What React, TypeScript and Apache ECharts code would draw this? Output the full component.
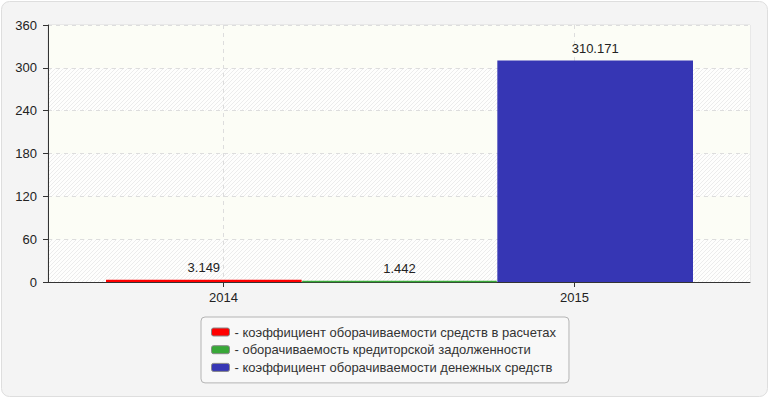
import React, { useEffect, useRef } from "react";
import * as echarts from "echarts";

const years = ["2014", "2015"];
const barSlots = ["slot1", "slot2", "slot3"];
const seriesNames = [
  "коэффициент оборачиваемости средств в расчетах",
  "оборачиваемость кредиторской задолженности",
  "коэффициент оборачиваемости денежных средств",
];
const receivablesTurnover = [3.149, null, null];
const payablesTurnover = [null, 1.442, null];
const cashTurnover = [null, null, 310.171];
const seriesColors = ["#ff0000", "#38a838", "#3636b4"];
const yMin = 0;
const yMax = 360;
const yStep = 60;

function makeHatch(): string {
  const c = document.createElement("canvas");
  c.width = 4;
  c.height = 4;
  const ctx = c.getContext("2d");
  if (ctx) {
    ctx.fillStyle = "#fefefd";
    ctx.fillRect(0, 0, 4, 4);
    ctx.strokeStyle = "#ececec";
    ctx.lineWidth = 1;
    for (let k = -4; k <= 8; k += 4) {
      ctx.beginPath();
      ctx.moveTo(k, 4);
      ctx.lineTo(k + 4, 0);
      ctx.stroke();
    }
  }
  return c.toDataURL();
}

export default function App() {
  const ref = useRef<HTMLDivElement>(null);
  useEffect(() => {
    if (!ref.current) return;
    const chart = echarts.init(ref.current, null, { renderer: "svg" });
    const font = "'Liberation Sans', Arial, sans-serif";
    const hatch = { image: makeHatch(), repeat: "repeat", imageWidth: 4, imageHeight: 4 };
    const plain = "#fcfdf6";
    const values = [receivablesTurnover, payablesTurnover, cashTurnover];
    chart.setOption({
      animation: false,
      backgroundColor: "transparent",
      textStyle: { fontFamily: font },
      graphic: [
        {
          type: "rect",
          z: -10,
          silent: true,
          shape: { x: 1.5, y: 1.5, width: 766, height: 395, r: 8 },
          style: { fill: "#f4f4f4", stroke: "#dedede", lineWidth: 1 },
        },
      ],
      grid: [
        {
          left: 48,
          right: 20,
          top: 25,
          bottom: 118,
          show: true,
          backgroundColor: plain,
          borderColor: "#dcdcdc",
          borderWidth: 1,
        },
        { left: 106, right: 77, top: 25, bottom: 118 },
      ],
      xAxis: [
        {
          type: "category",
          gridIndex: 0,
          data: years,
          boundaryGap: true,
          axisLine: { show: true, lineStyle: { color: "#333", width: 1 } },
          axisTick: { show: true, alignWithLabel: true, length: 5, lineStyle: { color: "#333" } },
          axisLabel: { color: "#222", fontSize: 13, margin: 9, fontFamily: font },
          splitLine: {
            show: true,
            alignWithLabel: true,
            lineStyle: { color: "#dddddd", type: [4, 4] },
          },
        },
        {
          type: "category",
          gridIndex: 1,
          data: barSlots,
          boundaryGap: true,
          show: false,
        },
      ],
      yAxis: [
        {
          type: "value",
          gridIndex: 0,
          min: yMin,
          max: yMax,
          interval: yStep,
          axisLine: { show: true, lineStyle: { color: "#333", width: 1 } },
          axisTick: { show: true, length: 5, lineStyle: { color: "#333" } },
          axisLabel: { color: "#222", fontSize: 13, margin: 11, fontFamily: font },
          splitLine: { show: true, lineStyle: { color: "#dddddd", type: [4, 4] } },
          splitArea: { show: true, areaStyle: { color: [hatch, plain] } },
        },
        {
          type: "value",
          gridIndex: 1,
          min: yMin,
          max: yMax,
          interval: yStep,
          show: false,
          splitLine: { show: false },
        },
      ],
      legend: {
        orient: "vertical",
        left: 201,
        top: 317,
        data: seriesNames,
        icon: "roundRect",
        itemWidth: 18,
        itemHeight: 8,
        itemGap: 2.7,
        padding: [7.5, 13, 8, 10],
        borderColor: "#b4b4b4",
        borderWidth: 1,
        borderRadius: 4,
        backgroundColor: "#f8f8f8",
        formatter: "- {name}",
        itemStyle: { borderColor: "#888", borderWidth: 1 },
        textStyle: { color: "#333", fontSize: 13, lineHeight: 15, fontFamily: font },
      },
      series: seriesNames.map((name, i) => ({
        name,
        type: "bar",
        xAxisIndex: 1,
        yAxisIndex: 1,
        data: values[i],
        barWidth: "100%",
        barGap: "-100%",
        itemStyle: { color: seriesColors[i], borderColor: seriesColors[i], borderWidth: 1.5 },
        label: {
          show: true,
          position: "top",
          distance: 6,
          color: "#222",
          fontSize: 13,
          fontFamily: font,
        },
      })),
    });
    return () => chart.dispose();
  }, []);
  return (
    <div
      ref={ref}
      style={{ position: "absolute", left: 0, top: 0, width: 770, height: 400 }}
    />
  );
}
